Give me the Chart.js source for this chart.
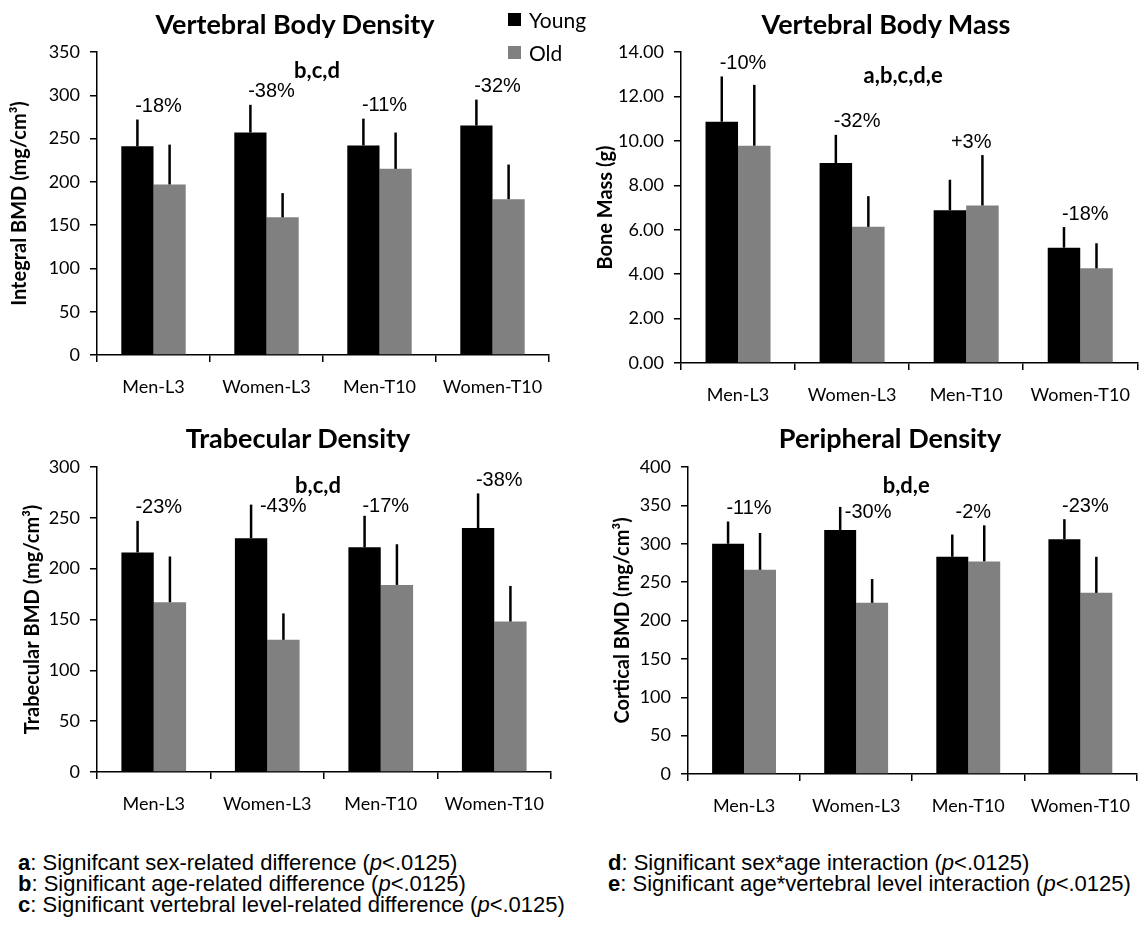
<!DOCTYPE html>
<html><head><meta charset="utf-8">
<script src="https://cdn.jsdelivr.net/npm/chart.js@4.4.1/dist/chart.umd.min.js"></script>
<style>
html,body{margin:0;padding:0;background:#fff;overflow:hidden;}
body{width:1144px;height:926px;position:relative;font-family:Lato,sans-serif;color:#000;}
canvas{position:absolute;}
.ttl{position:absolute;font-weight:bold;font-size:27px;font-family:Lato,sans-serif;transform:translate(-50%,-50%);white-space:nowrap;}
.leg{position:absolute;font-size:21px;font-family:Lato,sans-serif;white-space:nowrap;line-height:22px;}
.sw{position:absolute;width:13px;height:13px;}
.fn{position:absolute;font-family:"Liberation Sans",Arial,sans-serif;font-size:22px;line-height:22px;white-space:nowrap;}
</style>
</head><body>
<canvas id="c1" style="left:0;top:0"></canvas>
<canvas id="c2" style="left:580px;top:0"></canvas>
<canvas id="c3" style="left:0;top:410px"></canvas>
<canvas id="c4" style="left:580px;top:420px"></canvas>

<div class="ttl" style="left:295px;top:23px">Vertebral Body Density</div>
<div class="ttl" style="left:886px;top:23px">Vertebral Body Mass</div>
<div class="ttl" style="left:298px;top:437px">Trabecular Density</div>
<div class="ttl" style="left:890px;top:437px">Peripheral Density</div>

<div class="sw" style="left:508px;top:13px;background:#000"></div>
<div class="leg" style="left:529px;top:9px" id="legY"></div>
<div class="sw" style="left:508px;top:46px;background:#808080"></div>
<div class="leg" style="left:529px;top:42px" id="legO"></div>

<div class="fn" style="left:18px;top:852px"><b>a</b>: Signifcant sex-related difference (<i>p</i>&lt;.0125)</div>
<div class="fn" style="left:18px;top:873px"><b>b</b>: Significant age-related difference (<i>p</i>&lt;.0125)</div>
<div class="fn" style="left:18px;top:894px"><b>c</b>: Significant vertebral level-related difference (<i>p</i>&lt;.0125)</div>
<div class="fn" style="left:608px;top:852px"><b>d</b>: Significant sex*age interaction (<i>p</i>&lt;.0125)</div>
<div class="fn" style="left:608px;top:873px"><b>e</b>: Significant age*vertebral level interaction (<i>p</i>&lt;.0125)</div>

<script>
// ---------- DATA ----------
const categories = ['Men-L3', 'Women-L3', 'Men-T10', 'Women-T10'];
const seriesNames = ['Young', 'Old'];

// Vertebral Body Density: Integral BMD (mg/cm³)
const integralYoung    = [241, 257, 242, 265];
const integralYoungErr = [31, 32, 31, 30];
const integralOld      = [197, 159, 215, 180];
const integralOldErr   = [46, 28, 42, 40];
const integralPct      = ['-18%', '-38%', '-11%', '-32%'];
const integralSig      = 'b,c,d';
const integralTicks    = [0, 350, 50];

// Vertebral Body Mass: Bone Mass (g)
const massYoung    = [10.86, 9.00, 6.88, 5.19];
const massYoungErr = [2.04, 1.27, 1.37, 0.93];
const massOld      = [9.78, 6.13, 7.09, 4.26];
const massOldErr   = [2.74, 1.38, 2.27, 1.13];
const massPct      = ['-10%', '-32%', '+3%', '-18%'];
const massSig      = 'a,b,c,d,e';
const massTicks    = [0, 14, 2];

// Trabecular Density: Trabecular BMD (mg/cm³)
const trabYoung    = [216, 230, 221, 240];
const trabYoungErr = [31, 33, 31, 34];
const trabOld      = [167, 130, 184, 148];
const trabOldErr   = [45, 26, 40, 35];
const trabPct      = ['-23%', '-43%', '-17%', '-38%'];
const trabSig      = 'b,c,d';
const trabTicks    = [0, 300, 50];

// Peripheral Density: Cortical BMD (mg/cm³)
const cortYoung    = [300, 318, 283, 306];
const cortYoungErr = [29, 30, 29, 26];
const cortOld      = [266, 223, 277, 236];
const cortOldErr   = [48, 31, 47, 47];
const cortPct      = ['-11%', '-30%', '-2%', '-23%'];
const cortSig      = 'b,d,e';
const cortTicks    = [0, 400, 50];

document.getElementById('legY').textContent = seriesNames[0];
document.getElementById('legO').textContent = seriesNames[1];

// ---------- PLUGIN: error bars + annotations ----------
const annotPlugin = {
  id: 'annot',
  afterDatasetsDraw(chart) {
    const o = chart.options.plugins.annot;
    const ctx = chart.ctx;
    const ys = chart.scales.y, xs = chart.scales.x;
    const tops = [];
    ctx.save();
    ctx.strokeStyle = '#000';
    ctx.lineWidth = 2.5;
    chart.data.datasets.forEach((ds, di) => {
      const meta = chart.getDatasetMeta(di);
      meta.data.forEach((bar, i) => {
        const v = ds.data[i], e = o.errors[di][i];
        const yTop = ys.getPixelForValue(v + e);
        const yBar = ys.getPixelForValue(v);
        ctx.beginPath();
        ctx.moveTo(bar.x, yBar);
        ctx.lineTo(bar.x, yTop);
        ctx.stroke();
        tops[i] = tops[i] === undefined ? yTop : Math.min(tops[i], yTop);
      });
    });
    ctx.fillStyle = '#000';
    ctx.textAlign = 'center';
    ctx.textBaseline = 'middle';
    ctx.font = '20px "Liberation Sans", Arial, sans-serif';
    o.pct.forEach((t, i) => {
      const n = (o.nudge && o.nudge[i]) || [0, 0];
      ctx.fillText(t, xs.getPixelForValue(i) + 5 + n[0], tops[i] - 13 + n[1]);
    });
    ctx.font = 'bold 22px Lato, sans-serif';
    const ca = chart.chartArea;
    ctx.fillText(o.sig, (ca.left + ca.right) / 2 - 6, ca.top + 19 + (o.sigDy || 0));
    ctx.restore();
  }
};

function makeChart(id, w, h, pad, yW, xH, yTitle, yTitlePad, ticks, dec, young, old, yErr, oErr, pct, sig, nudge, sigDy) {
  const cv = document.getElementById(id);
  cv.width = w; cv.height = h;
  cv.style.width = w + 'px'; cv.style.height = h + 'px';
  const tickFont = { family: 'Lato, sans-serif', size: 18 };
  return new Chart(cv, {
    type: 'bar',
    data: {
      labels: categories,
      datasets: [
        { label: seriesNames[0], data: young, backgroundColor: '#000000', categoryPercentage: 0.57, barPercentage: 1.0 },
        { label: seriesNames[1], data: old, backgroundColor: '#808080', categoryPercentage: 0.57, barPercentage: 1.0 }
      ]
    },
    options: {
      responsive: false,
      animation: false,
      devicePixelRatio: 1,
      layout: { padding: pad },
      plugins: {
        legend: { display: false },
        tooltip: { enabled: false },
        annot: { errors: [yErr, oErr], pct: pct, sig: sig, nudge: nudge, sigDy: sigDy }
      },
      scales: {
        x: {
          grid: { display: true, drawOnChartArea: false, drawTicks: true, tickLength: 7, color: '#000', lineWidth: 1.5, offset: true },
          border: { display: true, color: '#000', width: 1.5 },
          ticks: { color: '#000', font: tickFont, padding: 14, maxRotation: 0, autoSkip: false },
          afterFit: s => { s.height = xH; }
        },
        y: {
          min: ticks[0], max: ticks[1],
          grid: { display: true, drawOnChartArea: false, drawTicks: true, tickLength: 7, color: '#000', lineWidth: 1.5 },
          border: { display: true, color: '#000', width: 1.5 },
          ticks: { stepSize: ticks[2], color: '#000', font: tickFont, padding: 10,
                   callback: v => dec ? Number(v).toFixed(dec) : v },
          title: { display: true, text: yTitle, color: '#000', font: { family: 'Lato, sans-serif', size: 20, weight: 'bold' },
                   padding: { top: yTitlePad, bottom: 0 } },
          afterFit: s => { s.width = yW; }
        }
      }
    },
    plugins: [annotPlugin]
  });
}

makeChart('c1', 560, 410, { left: 0, right: 11, top: 52, bottom: 0 }, 97, 55,
  'Integral BMD (mg/cm³)', 8, integralTicks, 0,
  integralYoung, integralOld, integralYoungErr, integralOldErr, integralPct, integralSig, null, 0);

makeChart('c2', 564, 420, { left: 0, right: 1, top: 52, bottom: 0 }, 101, 57,
  'Bone Mass (g)', 14, massTicks, 2,
  massYoung, massOld, massYoungErr, massOldErr, massPct, massSig, null, 5);

makeChart('c3', 560, 420, { left: 0, right: 9, top: 57, bottom: 0 }, 97, 58,
  'Trabecular BMD (mg/cm³)', 21, trabTicks, 0,
  trabYoung, trabOld, trabYoungErr, trabOldErr, trabPct, trabSig, [[0,0],[11,15],[0,4],[0,0]], 0);

makeChart('c4', 564, 420, { left: 0, right: 0, top: 47, bottom: 0 }, 108, 66,
  'Cortical BMD (mg/cm³)', 31, cortTicks, 0,
  cortYoung, cortOld, cortYoungErr, cortOldErr, cortPct, cortSig, [[0,0],[7,19],[0,0],[0,0]], 0);
</script>
</body></html>
